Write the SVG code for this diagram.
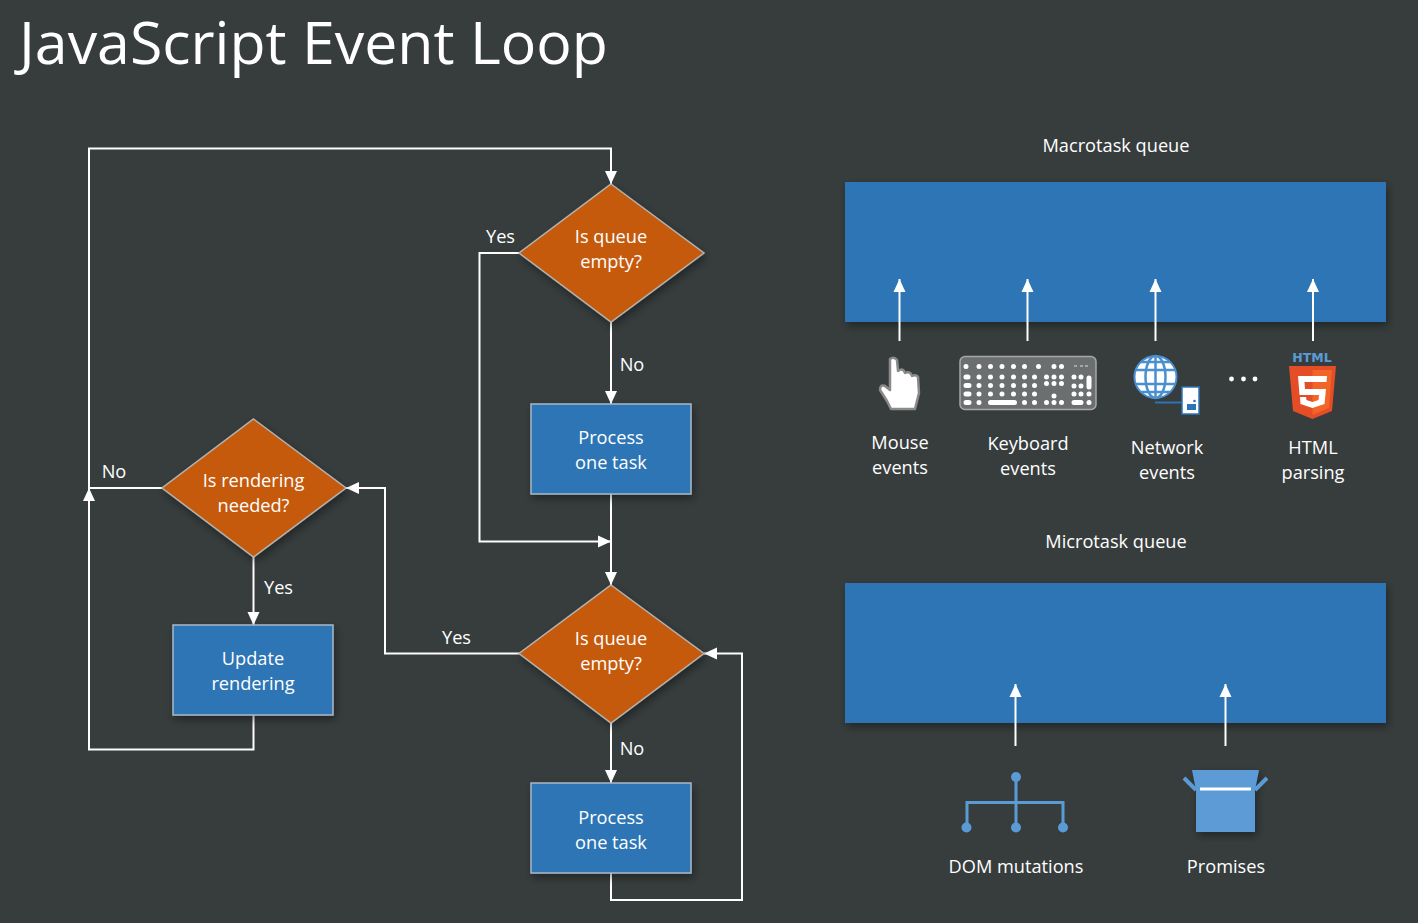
<svg xmlns="http://www.w3.org/2000/svg" width="1418" height="923" viewBox="0 0 1418 923">
<style>
text{font-family:"Open Sans","Noto Sans","Liberation Sans",sans-serif;fill:#fff;font-size:18.2px;text-anchor:middle}
.title{font-size:59px;text-anchor:start}
.box{fill:#2e74b5;stroke:#a9b8c6;stroke-width:1.5}
.dia{fill:#c55a11;stroke:#b4b4b0;stroke-width:1.5}
.q{fill:#2e74b5}
.c{fill:none;stroke:#fff;stroke-width:2}
.ic{fill:#5b9bd5}
.il{fill:none;stroke:#5b9bd5;stroke-width:3}
</style>
<defs>
<marker id="a" markerUnits="userSpaceOnUse" markerWidth="14" markerHeight="14" refX="13" refY="7" orient="auto"><path d="M0 1 L13 7 L0 13Z" fill="#fff"/></marker>
<filter id="s" x="-10%" y="-10%" width="120%" height="125%"><feDropShadow dx="2" dy="4" stdDeviation="4" flood-color="#000" flood-opacity=".4"/></filter>
</defs>
<rect width="1418" height="923" fill="#373d3d"/>
<text class="title" x="19" y="64">JavaScript Event Loop</text>

<g id="connectors">
<path class="c" marker-end="url(#a)" d="M611 322V404"/>
<path class="c" marker-end="url(#a)" d="M611 494V585"/>
<path class="c" marker-end="url(#a)" d="M520 253H479.500V541.500H611"/>
<path class="c" marker-end="url(#a)" d="M611 723V783"/>
<path class="c" marker-end="url(#a)" d="M611 873V900H742V653.500H704"/>
<path class="c" marker-end="url(#a)" d="M520 653.500H385V488H346"/>
<path class="c" marker-end="url(#a)" d="M253.500 557V625"/>
<path class="c" marker-end="url(#a)" d="M253.500 715V749.500H89V488"/>
<path class="c" marker-end="url(#a)" d="M162 488H89V148.500H611V184"/>
</g>

<g id="decision-macro"><path class="dia" filter="url(#s)" d="M611 184L704 253L611 322L519 253Z"/><text x="611" y="242.500">Is queue</text><text x="611" y="267.500">empty?</text></g>
<g id="task-macro"><rect class="box" filter="url(#s)" x="531" y="404" width="160" height="90"/><text x="611" y="443.500">Process</text><text x="611" y="468.500">one task</text></g>
<g id="decision-micro"><path class="dia" filter="url(#s)" d="M611 585L704 653.500L611 723L519 653.500Z"/><text x="611" y="644.500">Is queue</text><text x="611" y="669.500">empty?</text></g>
<g id="task-micro"><rect class="box" filter="url(#s)" x="531" y="783" width="160" height="90"/><text x="611" y="823.500">Process</text><text x="611" y="848.500">one task</text></g>
<g id="decision-render"><path class="dia" filter="url(#s)" d="M253.500 419L346 488L253.500 557L162 488Z"/><text x="253.500" y="486.500">Is rendering</text><text x="253.500" y="511.500">needed?</text></g>
<g id="task-render"><rect class="box" filter="url(#s)" x="173" y="625" width="160" height="90"/><text x="253" y="664.500">Update</text><text x="253" y="689.500">rendering</text></g>

<g id="flow-labels">
<text x="500.500" y="242.500">Yes</text><text x="632" y="370.500">No</text><text x="456.500" y="643.500">Yes</text><text x="632" y="754.500">No</text><text x="114" y="477.500">No</text><text x="278.500" y="593.500">Yes</text>
</g>

<g id="macrotask-queue"><rect class="q" filter="url(#s)" x="845" y="182" width="541" height="140"/><text x="1116" y="152">Macrotask queue</text></g>
<g id="microtask-queue"><rect class="q" filter="url(#s)" x="845" y="583" width="541" height="140"/><text x="1116" y="547.500">Microtask queue</text></g>

<g id="queue-connectors">
<path class="c" marker-end="url(#a)" d="M899.500 341V279"/>
<path class="c" marker-end="url(#a)" d="M1027.500 341V279"/>
<path class="c" marker-end="url(#a)" d="M1155.500 341V279"/>
<path class="c" marker-end="url(#a)" d="M1313 341V279"/>
<path class="c" marker-end="url(#a)" d="M1015.500 746V684"/>
<path class="c" marker-end="url(#a)" d="M1225.500 746V684"/>
</g>

<g id="mouse-events">
<path fill="#fff" stroke="#8a8a8a" stroke-width="2.500" stroke-linejoin="round" d="M890 359Q894 356 897 360L898 371Q902 368 904 371L905 373Q909 371 911 374L912 376Q916 374 918 377L919 393L915 409H891L887 401L880 390Q880 384 885 386L890 390Z"/>
<text x="900" y="449">Mouse</text><text x="900" y="474">events</text>
</g>
<g id="keyboard-events">
<rect x="960" y="356.500" width="136" height="53" rx="5" fill="#6b6f6f" stroke="#a8a8a8" stroke-width="1.500"/>
<path fill="none" stroke="#fff" stroke-width="5" stroke-linecap="round" d="M966 366.500h0M979 366.500h0M990.500 366.500h0M1002 366.500h0M1013.500 366.500h0M1024.500 366.500h0M1038.500 366.500h0M1054 366.500h0M1061.500 366.500h0
M966 377h2M979 377h0M990.500 377h0M1002 377h0M1013.500 377h0M1024.500 377h0M1034.500 377h0M1046.500 377h0M1054 377h0M1061.500 377h0M1074 377h0M1081 377h0
M966 385.500h3M979 385.500h0M990.500 385.500h0M1002 385.500h0M1013.500 385.500h0M1024.500 385.500h0M1034.500 385.500h0M1046.500 383.500h0M1054 383.500h0M1061.500 383.500h0M1074 386h0M1081 386h0
M966 394h3M979 394h0M990.500 394h0M1002 394h0M1013.500 394h0M1024.500 394h0M1034.500 394h0M1054 396h0M1074 394h0M1081 394h0M1089 394h0
M966 402.500h3M979 402.500h0M990.500 402.500h24M1024.500 402.500h0M1034.500 402.500h0M1046.500 402.500h0M1054 402.500h0M1061.500 402.500h0M1074 402.500h7M1089 402.500h0"/>
<path stroke="#fff" stroke-width="5" stroke-linecap="round" d="M1089 378V387"/>
<path stroke="#bbb" stroke-width="1.500" d="M1074 366h3M1080 366h3M1085 366h3"/>
<text x="1028" y="450">Keyboard</text><text x="1028" y="475">events</text>
</g>
<g id="network-events">
<circle cx="1155.500" cy="377" r="21" fill="#fff" stroke="#4a90d0" stroke-width="2"/>
<g fill="none" stroke="#4a90d0" stroke-width="2.500"><ellipse cx="1155.500" cy="377" rx="10" ry="21"/><path d="M1155.500 356V398M1136 370H1175M1136 384H1175M1141 362H1170M1141 392H1170"/></g>
<path d="M1155 402.500H1182" stroke="#2e74b5" stroke-width="2"/>
<rect x="1182" y="387" width="17" height="27" fill="#fff" stroke="#2e74b5" stroke-width="1.500"/><rect x="1187" y="404" width="9" height="6" fill="#2e74b5"/><circle cx="1194.500" cy="401" r="1.300" fill="#2e74b5"/>
<text x="1167" y="454">Network</text><text x="1167" y="479">events</text>
</g>
<g id="more-dots" fill="#fff"><circle cx="1231.500" cy="379" r="2.400"/><circle cx="1243.500" cy="379" r="2.400"/><circle cx="1255" cy="379" r="2.400"/></g>
<g id="html-parsing">
<text x="1312" y="362" style="font-size:12.500px;font-weight:800;fill:#5b9bd5;font-family:'DejaVu Sans',sans-serif">HTML</text>
<path fill="#e44d26" d="M1289 366H1336L1332 411L1312.500 419L1293 411Z"/><path fill="#f16529" d="M1312.500 370H1332L1329 408L1312.500 415Z"/>
<path fill="#fff" d="M1298 376H1327L1326.500 382H1304.500L1305 389H1326L1324.500 404L1312.500 408L1300.500 404L1300 397H1306L1306.500 400L1312.500 402L1318.500 400L1319 395H1299.500Z"/>
<text x="1313" y="454">HTML</text><text x="1313" y="479">parsing</text>
</g>
<g id="dom-mutations">
<path class="il" d="M1016 777V828M967 828V802.500H1063V828"/>
<g class="ic"><circle cx="1016" cy="777" r="5"/><circle cx="966.500" cy="827.500" r="5"/><circle cx="1016" cy="827.500" r="5"/><circle cx="1063" cy="827.500" r="5"/></g>
<text x="1016" y="872.500">DOM mutations</text>
</g>
<g id="promises">
<path class="ic" filter="url(#s)" d="M1192 770H1259L1255 790V832H1196V790Z"/>
<path fill="none" stroke="#5b9bd5" stroke-width="4" d="M1184 778L1196 790M1267 778L1255 790"/>
<path d="M1200 789H1251" stroke="#fff" stroke-width="3"/>
<text x="1226" y="872.500">Promises</text>
</g>
</svg>
